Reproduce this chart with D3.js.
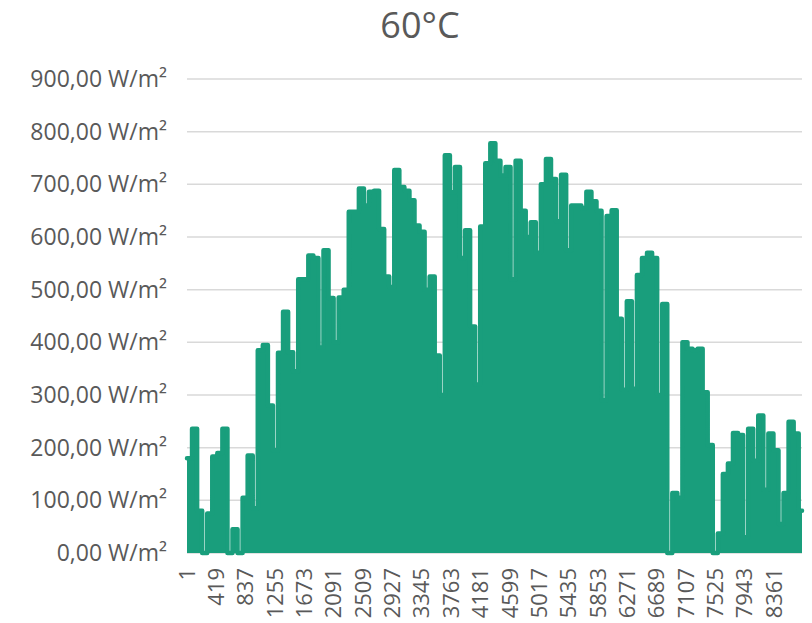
<!DOCTYPE html>
<html>
<head>
<meta charset="utf-8">
<script src="https://cdn.jsdelivr.net/npm/d3@7"></script>
<style>
  body { margin: 0; background: #fff; }
  text { font-family: "Open Sans", sans-serif; fill: #595959; }
</style>
</head>
<body>
<div id="chart"></div>
<script>
// hours in a year, and the block size used to read the peaks off the chart
var totalHours = 8760;
var blockHours = 72;

// peak output (W/m²) of each 3-day block
var peaks = [
  180, 236, 80, 0, 75, 183, 190, 236, 0, 45,
  0, 105, 185, 85, 385, 395, 280, 195, 380, 458,
  381, 345, 520, 520, 565, 560, 390, 575, 484, 400,
  485, 500, 648, 648, 692, 660, 686, 688, 615, 525,
  505, 727, 695, 688, 670, 622, 610, 500, 525, 375,
  300, 755, 685, 733, 560, 613, 430, 320, 620, 740,
  778, 745, 717, 733, 520, 745, 650, 600, 628, 570,
  700, 748, 710, 630, 718, 575, 660, 660, 655, 686,
  668, 650, 290, 640, 651, 445, 310, 478, 312, 528,
  560, 570, 560, 300, 473, 0, 114, 105, 400, 388,
  385, 388, 305, 205, 0, 37, 150, 170, 228, 224,
  30, 236, 175, 261, 120, 227, 195, 55, 114, 249,
  227, 80
];

var hourTicks = [1, 419, 837, 1255, 1673, 2091, 2509, 2927, 3345, 3763, 4181,
  4599, 5017, 5435, 5853, 6271, 6689, 7107, 7525, 7943, 8361];
var yTicks = [0, 100, 200, 300, 400, 500, 600, 700, 800, 900];

var width = 812, height = 623;
var margin = {top: 79, right: 10, bottom: 70, left: 187};

var svg = d3.select("#chart")
  .append("svg")
  .attr("width", width)
  .attr("height", height);

var x = d3.scaleLinear()
  .domain([1, totalHours])
  .range([margin.left, width - margin.right]);

var y = d3.scaleLinear()
  .domain([0, 900])
  .range([height - margin.bottom, margin.top]);

// title
svg.append("text")
  .attr("x", 420)
  .attr("y", 38)
  .attr("text-anchor", "middle")
  .style("font-size", "36px")
  .text("60°C");

// gridlines
svg.append("g")
  .selectAll("line")
  .data(yTicks)
  .enter()
  .append("line")
  .attr("x1", margin.left)
  .attr("x2", width - margin.right)
  .attr("y1", function(d) { return y(d); })
  .attr("y2", function(d) { return y(d); })
  .attr("stroke", "#d9d9d9")
  .attr("stroke-width", 1.5);

// y labels
var fmt = d3.format(".2f");
svg.append("g")
  .selectAll("text")
  .data(yTicks)
  .enter()
  .append("text")
  .attr("x", 167)
  .attr("y", function(d) { return y(d); })
  .attr("dy", "0.35em")
  .attr("text-anchor", "end")
  .style("font-size", "23px")
  .text(function(d) { return fmt(d).replace(".", ",") + " W/m²"; });

// series points: each block starts at its first hour
var pts = peaks.map(function(v, i) { return {h: i * blockHours + 1, v: v}; });
pts.push({h: totalHours, v: peaks[peaks.length - 1]});

var green = "#199e7c";

var area = d3.area()
  .curve(d3.curveStepAfter)
  .x(function(d) { return x(d.h); })
  .y0(y(0))
  .y1(function(d) { return y(d.v); });

var line = d3.line()
  .curve(d3.curveStepAfter)
  .x(function(d) { return x(d.h); })
  .y(function(d) { return y(d.v); });

svg.append("path")
  .datum(pts)
  .attr("d", area)
  .attr("fill", green);

svg.append("path")
  .datum(pts)
  .attr("d", line)
  .attr("fill", "none")
  .attr("stroke", green)
  .attr("stroke-width", 4.5)
  .attr("stroke-linejoin", "round")
  .attr("stroke-linecap", "round");

// x labels, rotated
svg.append("g")
  .selectAll("text")
  .data(hourTicks)
  .enter()
  .append("text")
  .attr("transform", function(d) { return "translate(" + x(d) + ",568) rotate(-90)"; })
  .attr("dy", "0.35em")
  .attr("text-anchor", "end")
  .style("font-size", "22px")
  .text(function(d) { return d; });
</script>
</body>
</html>
